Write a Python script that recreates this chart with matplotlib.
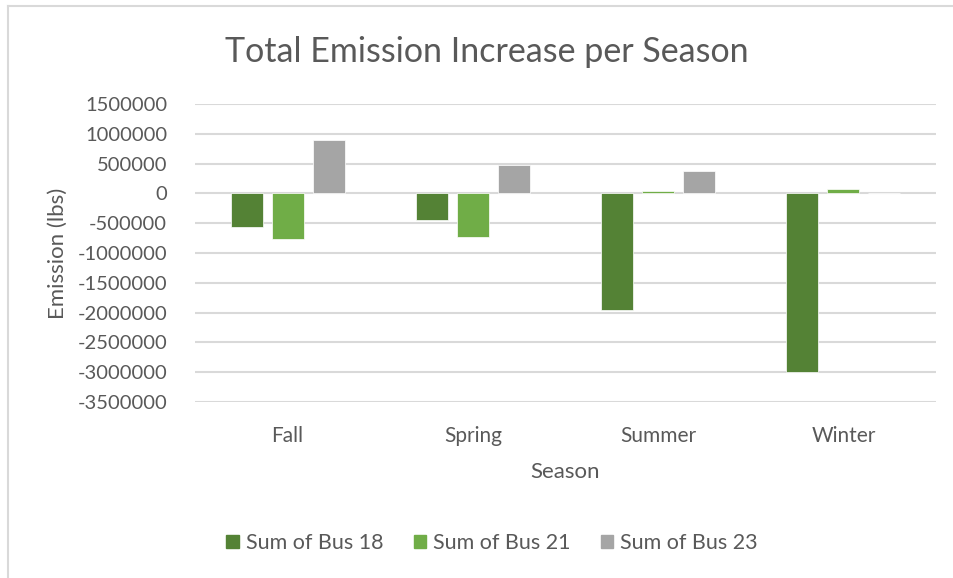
import numpy as np
import matplotlib.pyplot as plt
from matplotlib.lines import Line2D
from matplotlib.patches import Rectangle

seasons = ['Fall', 'Spring', 'Summer', 'Winter']
bus18 = [-570000, -450000, -1950000, -3000000]
bus21 = [-770000, -730000, 40000, 80000]
bus23 = [900000, 470000, 380000, 0]
series_names = ['Sum of Bus 18', 'Sum of Bus 21', 'Sum of Bus 23']
yticks = np.arange(-3500000, 1500001, 500000)

colores = ['#548235', '#70AD47', '#A5A5A5']
gris = '#595959'

plt.rcParams['font.family'] = ['Lato', 'DejaVu Sans']

fig = plt.figure(figsize=(9.54, 5.78), dpi=100)
ax = fig.add_axes([195/954, 1 - 402/578, 741/954, 298/578])

x = np.arange(len(seasons))
ancho = 0.173
paso = 0.221
for i, (vals, c) in enumerate(zip([bus18, bus21, bus23], colores)):
    ax.bar(x + (i - 1)*paso, vals, ancho, color=c, edgecolor='white',
           linewidth=0.5, label=series_names[i], zorder=3)

ax.set_xlim(-0.5, 3.5)
ax.set_ylim(-3500000, 1500000)
ax.set_yticks(yticks)
ax.set_yticklabels([str(v) for v in yticks])
ax.set_xticks(x)
ax.set_xticklabels(seasons)
ax.tick_params(axis='both', length=0, colors=gris, labelsize=15)
ax.tick_params(axis='y', labelsize=14.5, pad=20)
ax.tick_params(axis='x', pad=17)
ax.grid(axis='y', color='#D9D9D9', linewidth=1.5, zorder=0)
for s in ax.spines.values():
    s.set_visible(False)

ax.set_ylabel('Emission (lbs)', color=gris, fontsize=16, labelpad=7)
ax.set_xlabel('Season', color=gris, fontsize=16, labelpad=12)

fig.text(487/954, 1 - 52/578, 'Total Emission Increase per Season',
         ha='center', va='center', color=gris, fontsize=24.5)

# marco del grafico
fig.add_artist(Line2D([8/954, 8/954], [0, 1 - 6/578], color='#D9D9D9',
                      linewidth=1.5, transform=fig.transFigure))
fig.add_artist(Line2D([8/954, 1], [1 - 6/578, 1 - 6/578], color='#D9D9D9',
                      linewidth=1.5, transform=fig.transFigure))

handles = [Rectangle((0, 0), 1, 1, color=c) for c in colores]
fig.legend(handles, series_names, loc='center', bbox_to_anchor=(492/954, 1 - 543/578),
           ncol=3, frameon=False, fontsize=15.5, labelcolor=gris,
           handlelength=0.6, handleheight=0.6, handletextpad=0.3, columnspacing=1.4)

fig.savefig('out.png', dpi=100)
